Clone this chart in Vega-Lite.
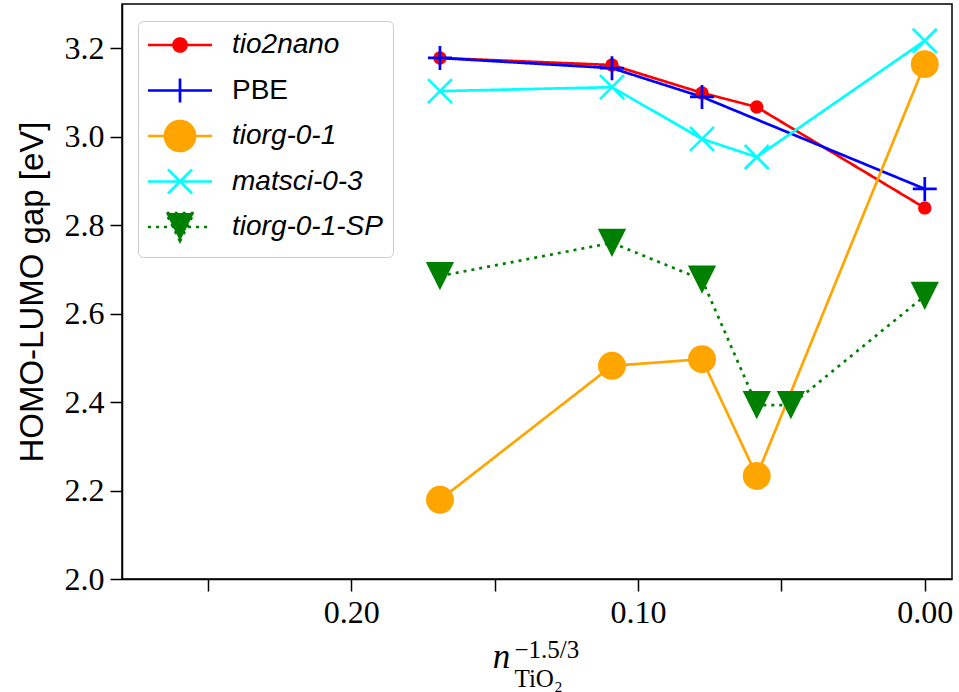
{
  "$schema": "https://vega.github.io/schema/vega-lite/v6.json",
  "width": 830,
  "height": 575,
  "autosize": {"type": "none"},
  "padding": {"left": 122, "top": 4, "right": 7, "bottom": 113},
  "background": "white",
  "config": {"view": {"stroke": "black", "strokeWidth": 1.5}},
  "data": {
    "values": [
      {"series": "tio2nano", "x": 0.1691, "y": 3.178},
      {"series": "tio2nano", "x": 0.1091, "y": 3.162},
      {"series": "tio2nano", "x": 0.0777, "y": 3.099},
      {"series": "tio2nano", "x": 0.0586, "y": 3.067},
      {"series": "tio2nano", "x": 0.0, "y": 2.839},
      {"series": "PBE", "x": 0.1691, "y": 3.178},
      {"series": "PBE", "x": 0.1091, "y": 3.155},
      {"series": "PBE", "x": 0.0777, "y": 3.090},
      {"series": "PBE", "x": 0.0, "y": 2.882},
      {"series": "tiorg-0-1", "x": 0.1691, "y": 2.179},
      {"series": "tiorg-0-1", "x": 0.1091, "y": 2.482},
      {"series": "tiorg-0-1", "x": 0.0777, "y": 2.497},
      {"series": "tiorg-0-1", "x": 0.0586, "y": 2.233},
      {"series": "tiorg-0-1", "x": 0.0, "y": 3.164},
      {"series": "matsci-0-3", "x": 0.1691, "y": 3.103},
      {"series": "matsci-0-3", "x": 0.1091, "y": 3.112},
      {"series": "matsci-0-3", "x": 0.0777, "y": 2.995},
      {"series": "matsci-0-3", "x": 0.0586, "y": 2.954},
      {"series": "matsci-0-3", "x": 0.0, "y": 3.217},
      {"series": "tiorg-0-1-SP", "x": 0.1691, "y": 2.685},
      {"series": "tiorg-0-1-SP", "x": 0.1091, "y": 2.760},
      {"series": "tiorg-0-1-SP", "x": 0.0777, "y": 2.677},
      {"series": "tiorg-0-1-SP", "x": 0.0586, "y": 2.393},
      {"series": "tiorg-0-1-SP", "x": 0.0467, "y": 2.393},
      {"series": "tiorg-0-1-SP", "x": 0.0, "y": 2.640}
    ]
  },
  "encoding": {
    "y": {
      "field": "y", "type": "quantitative",
      "scale": {"domain": [2.0, 3.3], "nice": false, "zero": false},
      "axis": {
        "values": [2.0, 2.2, 2.4, 2.6, 2.8, 3.0, 3.2],
        "format": ".1f",
        "title": "HOMO-LUMO gap [eV]",
        "titleFont": "Liberation Sans", "titleFontSize": 33, "titleFontWeight": "normal", "titleColor": "black", "titlePadding": 15,
        "labelFont": "Liberation Serif", "labelFontSize": 32, "labelColor": "black", "labelPadding": 6,
        "tickSize": 12, "tickColor": "black", "tickWidth": 1.5,
        "domainColor": "black", "domainWidth": 1.5, "grid": false
      }
    }
  },
  "layer": [
    {
      "mark": {"type": "line", "strokeWidth": 2.7},
      "encoding": {
        "x": {
          "field": "x", "type": "quantitative",
          "scale": {"domain": [-0.0095, 0.28], "reverse": true, "nice": false, "zero": false},
          "axis": {
            "values": [0.25, 0.2, 0.15, 0.1, 0.05, 0],
            "labelExpr": "abs(datum.value*10 - round(datum.value*10)) < 0.000001 ? format(datum.value, '.2f') : ''",
            "title": "n",
            "titleFont": "Liberation Serif", "titleFontStyle": "italic", "titleFontSize": 35, "titleFontWeight": "normal", "titleColor": "black",
            "titleX": 379, "titleY": 88, "titleAlign": "center", "titleBaseline": "alphabetic",
            "labelFont": "Liberation Serif", "labelFontSize": 32, "labelColor": "black", "labelPadding": 6,
            "labelFlush": false, "labelOverlap": false,
            "tickSize": 12, "tickColor": "black", "tickWidth": 1.5,
            "domainColor": "black", "domainWidth": 1.5, "grid": false
          }
        },
        "color": {
          "field": "series", "type": "nominal",
          "scale": {"domain": ["tio2nano", "PBE", "tiorg-0-1", "matsci-0-3", "tiorg-0-1-SP"], "range": ["#ff0000", "#0000ff", "#ffa500", "#00ffff", "#008000"]},
          "legend": {
            "orient": "none", "legendX": 16, "legendY": 17, "title": null,
            "labelFont": "Liberation Sans", "labelFontSize": 28, "labelColor": "black",
            "fillColor": "rgba(255,255,255,0.8)", "strokeColor": "#cccccc", "cornerRadius": 5,
            "padding": 10, "symbolSize": 100, "symbolOffset": 18, "labelOffset": 38, "rowPadding": 3.5,
            "gridAlign": "all",
            "symbolStrokeWidth": 2.7,
            "encode": {
              "symbols": {
                "update": {
                  "shape": {"signal": "datum.value === 'tio2nano' ? 'M-6.4,0L6.4,0M1.3,0A1.3,1.3,0,1,1,-1.3,0A1.3,1.3,0,1,1,1.3,0Z' : datum.value === 'PBE' ? 'M-6.4,0L6.4,0M0,-2.4L0,2.4' : datum.value === 'tiorg-0-1' ? 'M-6.4,0L6.4,0M3,0A3,3,0,1,1,-3,0A3,3,0,1,1,3,0Z' : datum.value === 'matsci-0-3' ? 'M-6.4,0L6.4,0M-2.4,-2.4L2.4,2.4M-2.4,2.4L2.4,-2.4' : 'M-6.4,0L6.4,0M0,2.8L-2.8,-2.8L2.8,-2.8Z'"},
                  "fill": {"signal": "datum.value === 'tio2nano' ? '#ff0000' : datum.value === 'tiorg-0-1' ? '#ffa500' : datum.value === 'tiorg-0-1-SP' ? '#008000' : 'transparent'"},
                  "stroke": {"signal": "scale('color', datum.value)"},
                  "strokeDash": {"signal": "datum.value === 'tiorg-0-1-SP' ? [3,5] : [1,0]"},
                  "strokeWidth": {"value": 2.7},
                  "opacity": {"value": 1}
                }
              },
              "labels": {
                "update": {
                  "fontStyle": {"signal": "datum.value === 'PBE' ? 'normal' : 'italic'"}
                }
              }
            }
          }
        },
        "strokeDash": {
          "field": "series", "type": "nominal",
          "scale": {"domain": ["tio2nano", "PBE", "tiorg-0-1", "matsci-0-3", "tiorg-0-1-SP"], "range": [[1, 0], [1, 0], [1, 0], [1, 0], [3, 5]]},
          "legend": null
        }
      }
    },
    {
      "transform": [{"filter": "datum.series === 'tio2nano'"}],
      "mark": {"type": "point", "shape": "circle", "filled": true, "size": 180, "color": "#ff0000", "opacity": 1},
      "encoding": {
        "x": {
          "field": "x", "type": "quantitative",
          "scale": {"domain": [-0.0095, 0.28], "reverse": true, "nice": false, "zero": false},
          "axis": {
            "orient": "bottom", "labels": false, "ticks": false, "domain": false, "grid": false,
            "title": ["−1.5/3", "TiO₂"],
            "titleFont": "Liberation Serif", "titleFontSize": 25, "titleFontWeight": "normal", "titleColor": "black",
            "titleAlign": "left", "titleBaseline": "alphabetic", "titleX": 392, "titleY": 78, "titleLineHeight": 29
          }
        }
      }
    },
    {
      "transform": [{"filter": "datum.series === 'PBE'"}],
      "mark": {"type": "point", "shape": "M-1,0L1,0M0,-1L0,1", "filled": false, "size": 576, "color": "#0000ff", "strokeWidth": 2.7, "opacity": 1},
      "encoding": {"x": {"field": "x", "type": "quantitative", "axis": null}}
    },
    {
      "transform": [{"filter": "datum.series === 'tiorg-0-1'"}],
      "mark": {"type": "point", "shape": "circle", "filled": true, "size": 780, "color": "#ffa500", "opacity": 1},
      "encoding": {"x": {"field": "x", "type": "quantitative", "axis": null}}
    },
    {
      "transform": [{"filter": "datum.series === 'matsci-0-3'"}],
      "mark": {"type": "point", "shape": "M-1,-1L1,1M-1,1L1,-1", "filled": false, "size": 576, "color": "#00ffff", "strokeWidth": 2.7, "opacity": 1},
      "encoding": {"x": {"field": "x", "type": "quantitative", "axis": null}}
    },
    {
      "transform": [{"filter": "datum.series === 'tiorg-0-1-SP'"}],
      "mark": {"type": "point", "shape": "M0,1L-1,-1L1,-1Z", "filled": true, "size": 800, "color": "#008000", "opacity": 1},
      "encoding": {"x": {"field": "x", "type": "quantitative", "axis": null}}
    }
  ],
  "resolve": {"axis": {"x": "independent"}}
}
